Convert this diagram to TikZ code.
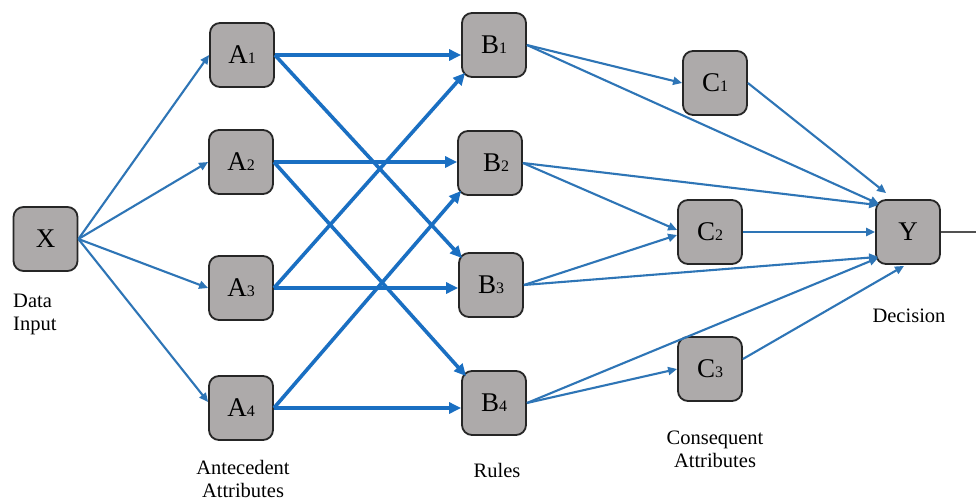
\documentclass[tikz,border=0pt]{standalone}
\usepackage{fontspec}
\setmainfont{Liberation Serif}
\usetikzlibrary{arrows.meta,calc}
\definecolor{boxfill}{HTML}{ADAAAA}
\definecolor{boxline}{HTML}{262626}
\definecolor{thinblue}{HTML}{2E75B6}
\definecolor{thickblue}{HTML}{1A6FC2}
\newcommand{\boxidx}[1]{{\fontsize{16}{16}\selectfont #1}}
\begin{document}
\begin{tikzpicture}[x=1pt,y=-1pt,
  box/.style={draw=boxline, fill=boxfill, line width=1.8pt, rounded corners=10pt,
    minimum width=64pt, minimum height=64pt, inner sep=0pt,
    font=\fontsize{27}{27}\selectfont},
  lnkthin/.style={draw=thinblue, line width=2.1pt, -{Triangle[length=9pt,width=8pt]}},
  lnkthick/.style={draw=thickblue, line width=3.6pt, -{Triangle[length=12pt,width=11pt]}},
  lbl/.style={font=\fontsize{20.5}{23}\selectfont, align=center, inner sep=0pt}
]
\fill[white] (0,0) rectangle (976,501);
\useasboundingbox (0,0) rectangle (976,501);

% nodes
\node[box] (X)  at (45.5,239) {X};
\node[box] (A1) at (242,55)  {A\boxidx{1}};
\node[box] (A2) at (241,162) {A\boxidx{2}};
\node[box] (A3) at (241,288) {A\boxidx{3}};
\node[box] (A4) at (241,408) {A\boxidx{4}};
\node[box] (B1) at (494,45)  {B\boxidx{1}};
\node[box] (B2) at (490,163) {\hspace*{12pt}B\boxidx{2}};
\node[box] (B3) at (491,285) {B\boxidx{3}};
\node[box] (B4) at (494,403) {B\boxidx{4}};
\node[box] (C1) at (715,83)  {C\boxidx{1}};
\node[box] (C2) at (710,232) {C\boxidx{2}};
\node[box] (C3) at (710,369) {C\boxidx{3}};
\node[box] (Y)  at (908,232) {Y};
\coordinate (out) at (976,232);

% labels (base anchor = baseline of the last line)
\node[lbl, anchor=base west, align=left] (din) at (13,330) {Data\\Input};
\node[lbl, anchor=base] (ant) at (243,497) {Antecedent\\Attributes};
\node[lbl, anchor=base] (rul) at (497,477) {Rules};
\node[lbl, anchor=base] (cons) at (715,467) {Consequent\\Attributes};
\node[lbl, anchor=base] (dec) at (909,322) {Decision};

% X -> A
\draw[lnkthin] (X.east) -- (A1.west);
\draw[lnkthin] (X.east) -- (A2.west);
\draw[lnkthin] (X.east) -- (A3.west);
\draw[lnkthin] (X.east) -- ($(A4.west)+(0,-6)$);

% A -> B
\draw[lnkthick] (A1.east) -- (A1.east -| B1.west);
\draw[lnkthick] (A1.east) -- ($(B3.north west)+(4,6)$);
\draw[lnkthick] (A2.east) -- (A2.east -| B2.west);
\draw[lnkthick] (A2.east) -- ($(B4.north west)+(5,6)$);
\draw[lnkthick] (A3.east) -- (A3.east -| B3.west);
\draw[lnkthick] (A3.east) -- ($(B1.south west)+(4,-5)$);
\draw[lnkthick] (A4.east) -- (A4.east -| B4.west);
\draw[lnkthick] (A4.east) -- ($(B2.south west)+(4,-5)$);

% B -> C / Y
\draw[lnkthin] (B1.east) -- (C1.west);
\draw[lnkthin] (B1.east) -- ($(Y.north west)+(4,5)$);
\draw[lnkthin] (B2.east) -- ($(C2.west)+(0,-2)$);
\draw[lnkthin] (B2.east) -- ($(Y.north west)+(3,6)$);
\draw[lnkthin] (B3.east) -- ($(C2.west)+(0,3)$);
\draw[lnkthin] (B3.east) -- ($(Y.south west)+(3,-8)$);
\draw[lnkthin] (B4.east) -- (C3.west);
\draw[lnkthin] (B4.east) -- ($(Y.south west)+(3,-7)$);

% C -> Y
\draw[lnkthin] (C1.east) -- ($(Y.north west)+(11,-6)$);
\draw[lnkthin] (C2.east) -- (Y.west);
\draw[lnkthin] ($(C3.east)+(0,-10)$) -- ($(Y.south)+(-4,1)$);

% output
\draw[draw=boxline!80, line width=1.5pt] (Y.east) -- (out);
\end{tikzpicture}
\end{document}
